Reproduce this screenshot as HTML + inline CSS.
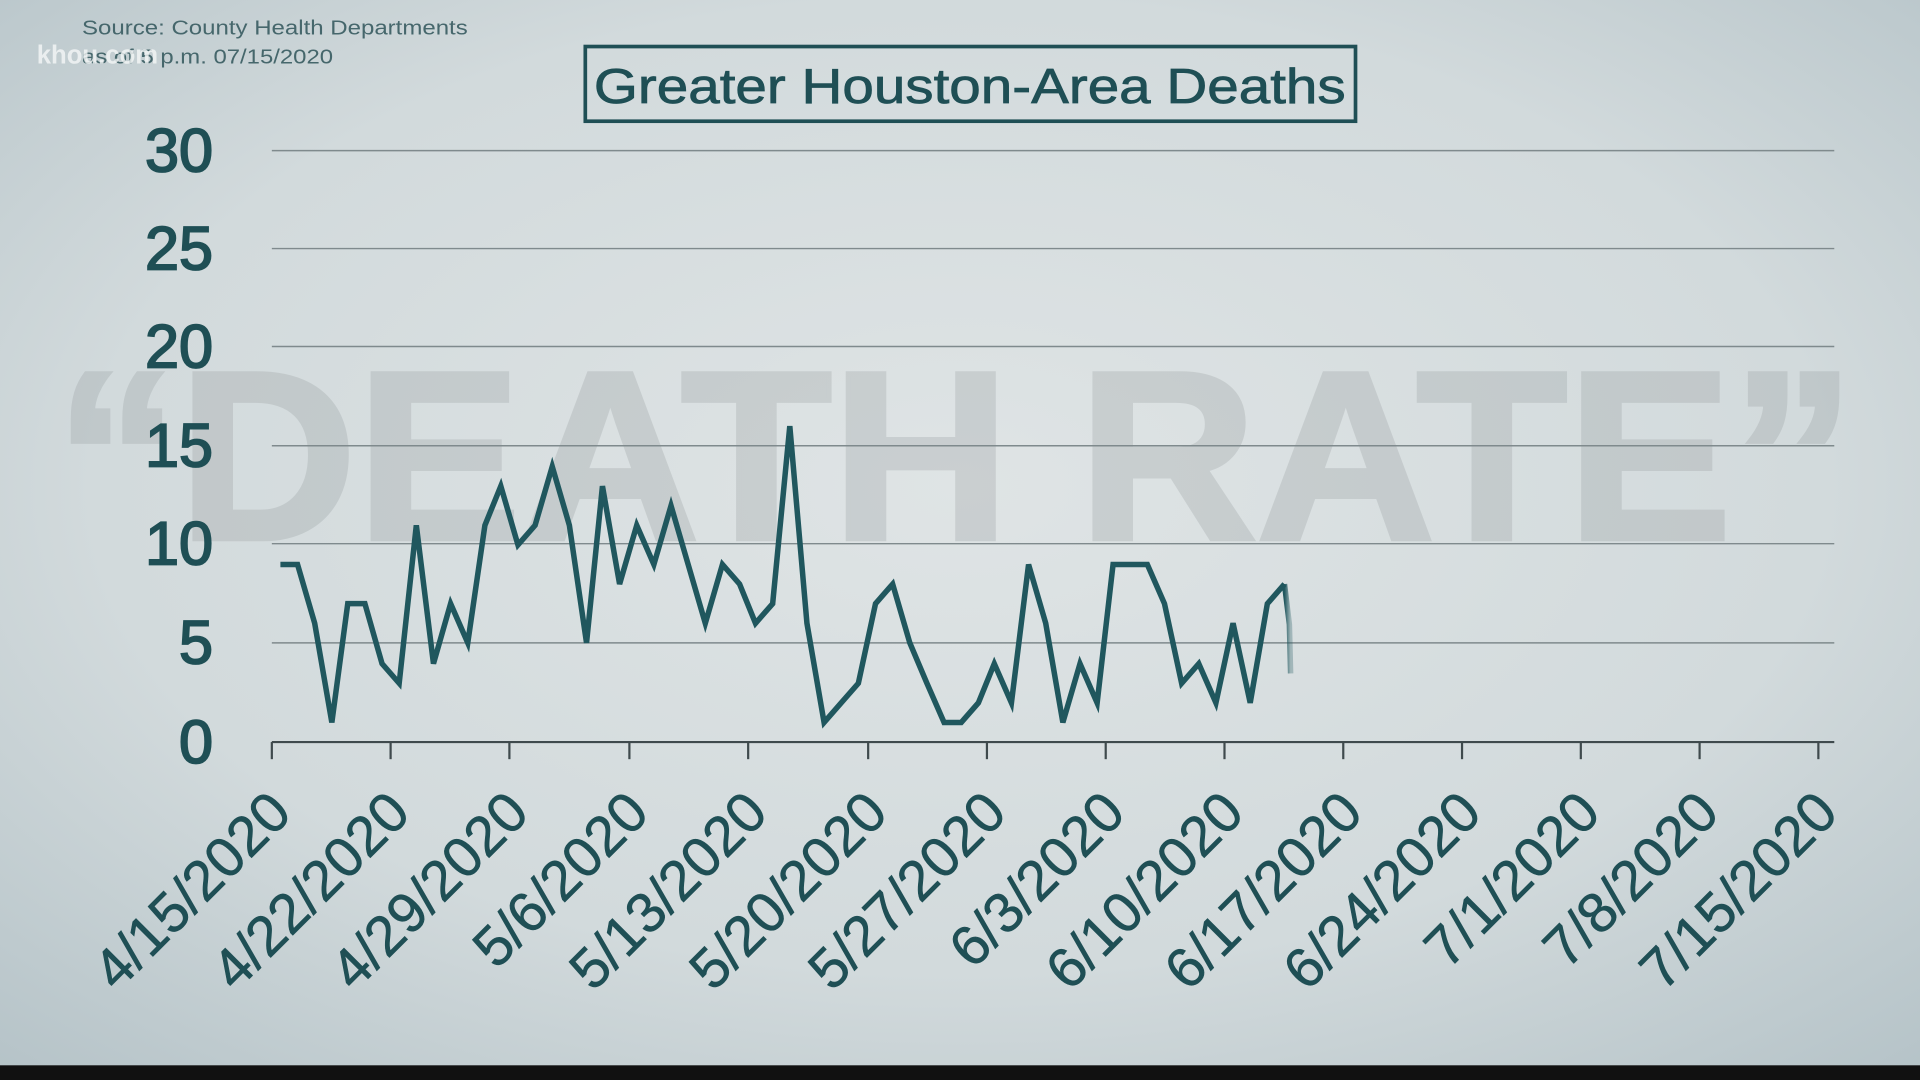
<!DOCTYPE html>
<html><head><meta charset="utf-8"><style>
html,body{margin:0;padding:0;width:1920px;height:1080px;overflow:hidden;background:#cdd6d9}
svg{display:block}
text{font-family:"Liberation Sans",sans-serif}
</style></head><body>
<svg width="1920" height="1080" viewBox="0 0 1568 882" xmlns="http://www.w3.org/2000/svg">
<defs>
<radialGradient id="bg" cx="0.5" cy="0.45" r="0.75">
<stop offset="0" stop-color="#dfe4e5"/>
<stop offset="0.6" stop-color="#d2dadc"/>
<stop offset="1" stop-color="#b4c2c7"/>
</radialGradient>
<linearGradient id="fade" x1="0" y1="0" x2="1" y2="0">
<stop offset="0" stop-color="#20575e"/><stop offset="1" stop-color="#20575e" stop-opacity="0.3"/>
</linearGradient>
</defs>
<rect width="1568" height="882" fill="url(#bg)"/>
<rect y="870" width="1568" height="12" fill="#111"/>
<g opacity="0.24"><text x="780" y="440" text-anchor="middle" font-size="196" font-weight="bold" fill="#8a9092" stroke="#8a9092" stroke-width="4" textLength="1470" lengthAdjust="spacingAndGlyphs">“DEATH RATE”</text></g>
<text x="67" y="28" font-size="16.5" fill="#46676c" textLength="315" lengthAdjust="spacingAndGlyphs">Source: County Health Departments</text>
<text x="67" y="52" font-size="16.5" fill="#46676c" textLength="205" lengthAdjust="spacingAndGlyphs">as of 5 p.m. 07/15/2020</text>
<text x="30" y="52" font-size="21" font-weight="bold" fill="#f4f6f6" fill-opacity="0.8">khou.com</text>
<rect x="478" y="38" width="629" height="61" fill="none" stroke="#1f4f55" stroke-width="3"/>
<text x="792" y="84" text-anchor="middle" font-size="40" fill="#1f4f55" stroke="#1f4f55" stroke-width="0.6" textLength="614" lengthAdjust="spacingAndGlyphs">Greater Houston-Area Deaths</text>
<g stroke="#7f8a8d" stroke-width="1.2">
<line x1="222" y1="123" x2="1498" y2="123"/><line x1="222" y1="203" x2="1498" y2="203"/>
<line x1="222" y1="283" x2="1498" y2="283"/><line x1="222" y1="364" x2="1498" y2="364"/>
<line x1="222" y1="444" x2="1498" y2="444"/><line x1="222" y1="525" x2="1498" y2="525"/>
</g>
<g stroke="#3f4a4d" stroke-width="1.8">
<line x1="222" y1="606" x2="1498" y2="606"/>
<line x1="222" y1="606" x2="222" y2="620"/><line x1="319" y1="606" x2="319" y2="620"/><line x1="416" y1="606" x2="416" y2="620"/><line x1="514" y1="606" x2="514" y2="620"/><line x1="611" y1="606" x2="611" y2="620"/><line x1="709" y1="606" x2="709" y2="620"/><line x1="806" y1="606" x2="806" y2="620"/><line x1="903" y1="606" x2="903" y2="620"/><line x1="1000" y1="606" x2="1000" y2="620"/><line x1="1097" y1="606" x2="1097" y2="620"/><line x1="1194" y1="606" x2="1194" y2="620"/><line x1="1291" y1="606" x2="1291" y2="620"/><line x1="1388" y1="606" x2="1388" y2="620"/><line x1="1485" y1="606" x2="1485" y2="620"/>
</g>
<g font-size="50" fill="#1f4f55" stroke="#1f4f55" stroke-width="1.5" text-anchor="end">
<text x="174" y="140">30</text><text x="174" y="220">25</text><text x="174" y="300">20</text>
<text x="174" y="381">15</text><text x="174" y="461">10</text><text x="174" y="542">5</text><text x="174" y="623">0</text>
</g>
<g font-size="46" fill="#1f4f55" stroke="#1f4f55" stroke-width="0.5" text-anchor="end">
<text transform="translate(240,666) rotate(-45)">4/15/2020</text>
<text transform="translate(337,666) rotate(-45)">4/22/2020</text>
<text transform="translate(434,666) rotate(-45)">4/29/2020</text>
<text transform="translate(532,666) rotate(-45)">5/6/2020</text>
<text transform="translate(629,666) rotate(-45)">5/13/2020</text>
<text transform="translate(727,666) rotate(-45)">5/20/2020</text>
<text transform="translate(824,666) rotate(-45)">5/27/2020</text>
<text transform="translate(921,666) rotate(-45)">6/3/2020</text>
<text transform="translate(1018,666) rotate(-45)">6/10/2020</text>
<text transform="translate(1115,666) rotate(-45)">6/17/2020</text>
<text transform="translate(1212,666) rotate(-45)">6/24/2020</text>
<text transform="translate(1309,666) rotate(-45)">7/1/2020</text>
<text transform="translate(1406,666) rotate(-45)">7/8/2020</text>
<text transform="translate(1503,666) rotate(-45)">7/15/2020</text>
</g>
<polyline fill="none" stroke="#20575e" stroke-width="4.5" stroke-linejoin="miter" points="
229,461 243,461 257,509 271,590 284,493 298,493 312,542 326,558 340,429 354,542 368,493 382,525 396,429 409,397 423,445 437,429 451,381 465,429 479,525 492,397 506,477 520,429 534,461 548,413 562,461 576,509 590,461 604,477 617,509 631,493 645,348 659,509 673,590 687,574 701,558 715,493 729,477 743,525 757,558 771,590 785,590 799,574 812,542 826,574 840,461 854,509 868,590 882,542 896,574 909,461 923,461 937,461 951,493 965,558 979,542 993,574 1007,509 1021,574 1035,493 1049,477"/>
<polyline fill="none" stroke="url(#fade)" stroke-width="4.5" points="1049,477 1053,510 1054,550"/>
</svg>
</body></html>
